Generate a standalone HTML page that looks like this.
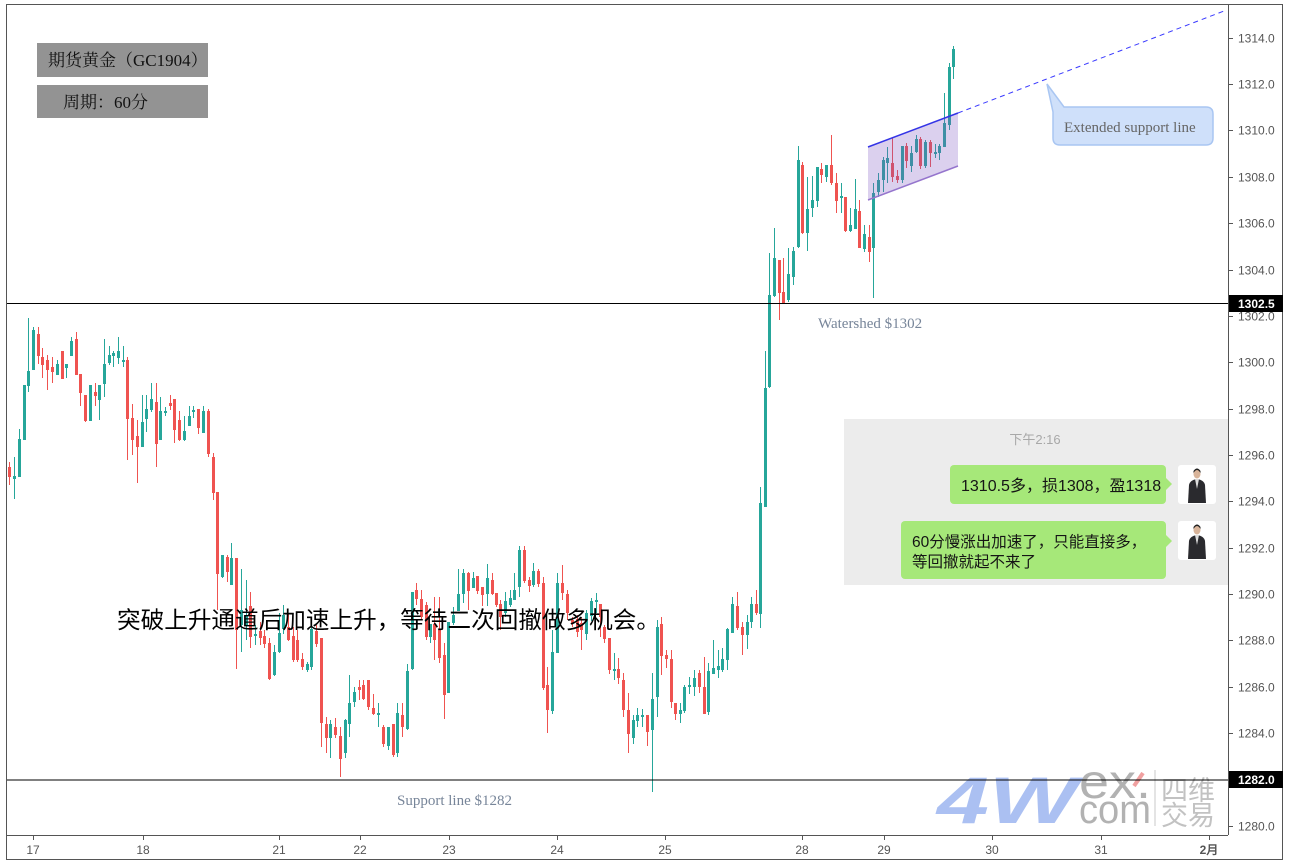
<!DOCTYPE html>
<html><head><meta charset="utf-8">
<style>
html,body{margin:0;padding:0;background:#fff;}
body{width:1290px;height:867px;overflow:hidden;}
svg{display:block;}
.ax{font-family:"Liberation Sans",sans-serif;font-size:12px;fill:#555;}
.ann{font-family:"Liberation Serif",serif;font-size:15px;fill:#778599;}
.cn{font-family:"Liberation Sans","Noto Sans CJK SC",sans-serif;}
</style></head>
<body>
<svg id="s" width="1290" height="867" viewBox="0 0 1290 867" xmlns="http://www.w3.org/2000/svg" shape-rendering="auto">
<rect x="0" y="0" width="1290" height="867" fill="#fff"/>
<g id="candles" shape-rendering="crispEdges"></g>
<!-- channel -->
<polygon points="868,147 958,113 958,166 868,200" fill="rgba(126,87,194,0.28)"/>
<line x1="868" y1="147" x2="958" y2="113" stroke="#3434e6" stroke-width="1.5"/>
<line x1="868" y1="200" x2="958" y2="166" stroke="#9575cd" stroke-width="1.5"/>
<line x1="958" y1="113" x2="1224" y2="11" stroke="#3a3aff" stroke-width="1" stroke-dasharray="5,4"/>
<!-- callout -->
<path d="M1047,84 L1064,107 H1206 Q1213,107 1213,114 V138 Q1213,145 1206,145 H1060 Q1053,145 1053,138 V112 Z" fill="#cfe0fa" stroke="#a9c6f2" stroke-width="1.5"/>
<text x="1064" y="132" font-family="Liberation Serif,serif" font-size="15" fill="#666">Extended support line</text>
<!-- watermark logo -->
<text x="937" y="823" font-family="Liberation Sans,sans-serif" font-weight="bold" font-style="italic" font-size="66" fill="#abc0f2" textLength="140" lengthAdjust="spacingAndGlyphs">4W</text>
<text x="1079" y="798" font-family="Liberation Sans,sans-serif" font-size="48" fill="#b2b2b2" textLength="72" lengthAdjust="spacingAndGlyphs">ex.</text>
<line x1="1134" y1="786" x2="1143" y2="773" stroke="#f0a0a0" stroke-width="4"/>
<text x="1079" y="823" font-family="Liberation Sans,sans-serif" font-size="40" fill="#b2b2b2" textLength="72" lengthAdjust="spacingAndGlyphs">com</text>
<line x1="1155" y1="770" x2="1155" y2="826" stroke="#c8c8c8" stroke-width="1"/>
<text x="1161" y="800" font-family="Noto Sans CJK SC,sans-serif" font-size="27" fill="#c2c2c2">四维</text>
<text x="1161" y="825" font-family="Noto Sans CJK SC,sans-serif" font-size="27" fill="#c2c2c2">交易</text>
<!-- horizontal lines -->
<line x1="6" y1="303.5" x2="1228" y2="303.5" stroke="#000" stroke-width="1"/>
<line x1="6" y1="780" x2="1228" y2="780" stroke="#000" stroke-width="1"/>
<text class="ann" x="818" y="328">Watershed $1302</text>
<text class="ann" x="397" y="805">Support line $1282</text>
<!-- top-left labels -->
<rect x="37" y="43" width="171" height="34" fill="#939393"/>
<text x="48" y="66" font-family="Liberation Serif,'Noto Serif CJK SC',serif" font-size="17" fill="#111">期货黄金（GC1904）</text>
<rect x="37" y="85" width="171" height="33" fill="#939393"/>
<text x="63" y="108" font-family="Liberation Serif,'Noto Serif CJK SC',serif" font-size="17" fill="#111">周期：60分</text>
<!-- overlay chinese text -->
<text x="117" y="628" font-family="Liberation Sans,'Noto Sans CJK SC',sans-serif" font-size="23.5" fill="#000" textLength="543" lengthAdjust="spacingAndGlyphs">突破上升通道后加速上升，等待二次回撤做多机会。</text>
<!-- chat box -->
<rect x="844" y="419" width="384" height="166" fill="#ececec"/>
<text x="1035" y="444" text-anchor="middle" font-family="Liberation Sans,'Noto Sans CJK SC',sans-serif" font-size="13" fill="#a8a8a8">下午2:16</text>
<rect x="950" y="465" width="216" height="39" rx="4" fill="#a6e879"/>
<polygon points="1166,478 1172,484 1166,490" fill="#a6e879"/>
<text x="961" y="491" class="cn" font-size="16" fill="#151515">1310.5多，损1308，盈1318</text>
<rect x="901" y="521" width="265" height="58" rx="4" fill="#a6e879"/>
<polygon points="1166,535 1172,541 1166,547" fill="#a6e879"/>
<text x="912" y="547" class="cn" font-size="15.5" fill="#151515">60分慢涨出加速了，只能直接多，</text>
<text x="912" y="567" class="cn" font-size="15.5" fill="#151515">等回撤就起不来了</text>
<g id="av1"></g>
<!-- frame & axes -->
<rect x="6.5" y="4.5" width="1276" height="855" fill="none" stroke="#555" stroke-width="1"/>
<line x1="1228.5" y1="4" x2="1228.5" y2="835" stroke="#555" stroke-width="1"/>
<line x1="6" y1="835.5" x2="1228" y2="835.5" stroke="#555" stroke-width="1"/>
<g id="axes"></g>
<!-- price boxes -->
<rect x="1229" y="295" width="54" height="17" fill="#000"/>
<text x="1238" y="308" font-family="Liberation Sans,sans-serif" font-size="12" font-weight="bold" fill="#fff">1302.5</text>
<rect x="1229" y="771" width="54" height="17" fill="#000"/>
<text x="1238" y="784" font-family="Liberation Sans,sans-serif" font-size="12" font-weight="bold" fill="#fff">1282.0</text>
</svg>
<script>
(function(){
var NS="http://www.w3.org/2000/svg";
function el(n,a,p){var e=document.createElementNS(NS,n);for(var k in a)e.setAttribute(k,a[k]);(p||document.getElementById('s')).appendChild(e);return e;}
var D=[
[9,0,467,477,462,485],[14,1,476,479,457,499],[19,1,439,477,429,477],[24,1,385,440,385,440],[28,1,371,386,318,392],
[33,1,330,370,327,370],[38,0,334,356,327,364],[42,0,357,365,348,378],[47,0,360,370,355,390],[52,0,367,372,357,383],
[57,1,364,375,360,375],[62,0,351,379,351,379],[66,1,364,368,364,378],[71,1,341,356,337,356],[76,0,339,375,332,375],
[80,0,374,393,374,406],[85,0,395,421,395,422],[90,1,385,421,385,421],[95,0,392,396,383,406],[99,1,385,400,385,420],
[104,1,364,384,339,397],[109,1,355,363,346,365],[113,1,353,356,351,367],[118,1,351,358,337,364],[123,1,360,361,346,367],
[127,0,360,419,357,460],[132,0,418,440,404,455],[137,0,436,447,420,483],[142,1,422,447,395,447],[146,1,409,419,395,432],
[151,1,399,410,383,412],[156,0,402,444,383,467],[160,1,411,440,397,440],[165,1,411,413,407,416],[170,0,403,406,395,410],
[174,0,399,430,399,443],[179,0,420,440,411,441],[184,1,431,440,416,441],[189,1,416,426,406,426],[193,1,410,412,406,418],
[198,0,409,428,409,434],[203,1,411,433,406,433],[208,0,411,454,409,457],[213,0,457,493,453,500],[217,0,492,574,492,610],
[222,1,555,577,555,578],[227,0,557,572,555,582],[231,1,558,585,543,585],[236,0,558,630,558,669],[241,1,610,625,569,652],
[246,1,615,625,580,640],[250,0,606,637,592,648],[255,1,634,636,625,645],[260,0,631,638,622,645],[264,0,636,644,630,648],
[269,0,643,679,638,680],[274,1,652,675,645,676],[279,1,633,652,613,653],[283,1,615,629,605,634],[288,0,627,640,614,641],
[293,0,636,660,627,662],[297,0,640,660,630,662],[302,0,659,667,653,670],[307,1,664,670,662,672],[311,1,629,667,622,670],
[316,0,631,644,625,647],[321,0,638,723,638,747],[326,0,724,738,717,753],[330,1,724,738,720,758],[335,0,727,735,718,738],
[340,0,736,759,727,777],[345,1,720,753,719,758],[349,1,703,724,675,737],[354,1,692,702,687,707],[359,0,687,690,680,700],
[363,0,685,699,680,700],[368,0,680,707,680,710],[373,0,708,714,694,715],[378,1,713,715,703,727],[383,0,727,744,725,747],
[388,1,727,746,727,750],[393,0,724,755,724,757],[397,1,713,753,703,757],[402,0,715,727,703,737],[407,1,671,729,664,730],
[412,1,592,669,592,670],[416,0,590,599,583,605],[421,0,599,617,590,620],[426,0,605,637,602,640],[430,1,624,637,624,643],
[434,0,624,640,597,660],[439,0,629,658,597,663],[444,0,655,695,643,719],[448,1,622,693,622,693],[453,1,615,623,607,625],
[458,1,594,611,569,611],[463,1,573,594,569,603],[468,0,573,591,572,610],[473,1,578,588,572,588],[477,0,576,591,576,594],
[482,0,587,595,587,606],[487,1,578,594,564,606],[492,0,580,594,573,595],[496,0,593,605,593,607],[500,0,604,617,600,630],
[505,1,601,613,592,617],[510,1,598,605,590,607],[514,1,590,600,573,600],[519,1,550,587,546,597],[524,0,550,581,546,583],
[529,0,580,586,577,592],[533,1,571,585,563,587],[538,0,571,584,569,587],[543,0,583,688,577,690],[547,0,685,710,667,733],
[552,1,652,711,630,714],[557,1,583,653,573,653],[562,0,583,593,565,600],[567,0,594,613,590,620],[572,0,620,623,617,627],
[577,0,619,632,615,637],[581,0,623,630,618,650],[586,1,613,634,610,640],[591,1,601,616,598,621],[596,1,600,602,593,613],
[600,0,604,617,604,637],[604,0,627,639,625,643],[609,0,638,670,638,674],[614,1,669,671,653,680],[618,0,669,678,658,684],
[623,0,680,710,673,717],[628,0,710,734,693,753],[633,1,720,738,715,744],[637,1,715,721,708,727],[642,1,715,717,709,727],
[647,0,715,732,715,746],[652,1,699,730,673,792],[657,1,627,697,620,717],[661,0,624,656,617,675],[666,0,655,659,650,668],
[671,0,659,702,650,708],[675,0,703,714,703,720],[680,1,710,714,703,723],[684,1,687,711,685,713],[689,1,685,687,677,694],
[694,1,678,687,670,696],[699,0,673,687,670,693],[704,0,687,714,657,714],[708,1,671,712,663,715],[713,1,668,674,640,674],
[718,1,666,670,650,678],[722,1,659,670,648,672],[727,1,629,660,628,670],[732,1,604,633,597,633],[737,0,606,628,592,630],
[742,0,627,635,622,655],[747,1,622,635,615,649],[751,1,604,622,597,628],[756,0,604,613,590,615],[760,1,503,614,487,628],
[765,1,388,507,351,507],[769,1,295,387,253,388],[774,1,258,296,228,297],[779,0,260,293,260,320],[783,0,292,303,258,304],
[788,1,274,300,248,302],[793,1,251,277,247,285],[798,1,160,247,146,248],[802,0,165,233,162,234],[807,1,209,233,177,251],
[812,1,200,208,176,217],[817,1,167,201,167,207],[821,0,169,175,163,183],[826,1,165,177,165,182],[831,0,165,183,135,185],
[836,0,183,201,173,213],[841,1,196,198,183,213],[845,0,197,231,197,232],[850,1,225,231,208,232],[855,1,209,229,179,229],
[859,0,211,248,200,248],[864,1,234,249,225,252],[869,0,237,252,225,262],[873,1,193,248,183,298],[878,1,180,192,173,197],
[883,1,160,180,157,192],[887,1,158,163,147,183],[892,0,163,177,138,182],[897,0,176,180,170,183],[902,1,146,180,146,183],
[906,0,146,161,143,168],[911,1,153,166,146,172],[916,1,139,152,135,153],[920,0,139,166,137,169],[925,1,142,166,140,168],
[930,0,142,153,140,167],[935,1,152,154,144,158],[939,1,146,153,144,160],[944,1,123,147,93,147],[949,1,67,125,63,130],
[953,1,49,67,46,79]
];
var g=document.getElementById('candles');
D.forEach(function(c){
  var col=c[1]?'#26a69a':'#ef5350';
  var x=c[0];
  el('rect',{x:x,y:c[4],width:1,height:Math.max(1,c[5]-c[4]),fill:col},g);
  el('rect',{x:x-1,y:c[2],width:3,height:Math.max(2,c[3]-c[2]),fill:col},g);
});
// axes
var a=document.getElementById('axes');
for(var p=1314;p>=1280;p-=2){
  var y=Math.round(37.7+(1314-p)*23.18)+0.5;
  el('line',{x1:1228,y1:y,x2:1233,y2:y,stroke:'#555','stroke-width':1},a);
  var t=el('text',{x:1238,y:y+4,'class':'ax'},a);t.textContent=p.toFixed(1);
}
var days=[['17',33],['18',143],['21',279],['22',360],['23',449],['24',557],['25',665],['28',802],['29',884],['30',992],['31',1101],['2月',1209]];
days.forEach(function(d){
  el('line',{x1:d[1]+0.5,y1:835,x2:d[1]+0.5,y2:840,stroke:'#555','stroke-width':1},a);
  var t=el('text',{x:d[1],y:854,'text-anchor':'middle','class':'ax'},a);
  if(d[0]=='2月'){t.setAttribute('font-weight','bold');t.setAttribute('fill','#333');t.setAttribute('font-family','Liberation Sans,Noto Sans CJK SC,sans-serif');}
  t.textContent=d[0];
});
// avatars
var av=document.getElementById('av1');
[465,521].forEach(function(y0){
  el('rect',{x:1178,y:y0,width:38,height:39,rx:3,fill:'#fff'},av);
  el('path',{d:'M1188,'+(y0+38)+' L1189,'+(y0+20)+' Q1190,'+(y0+15)+' 1197,'+(y0+14)+' Q1204,'+(y0+15)+' 1205,'+(y0+20)+' L1206,'+(y0+38)+' Z',fill:'#2a2a2e'},av);
  el('path',{d:'M1195,'+(y0+14)+' L1197,'+(y0+24)+' L1199,'+(y0+14)+' Z',fill:'#ddd'},av);
  el('ellipse',{cx:1197,cy:y0+9,rx:3.5,ry:4.5,fill:'#d8b49a'},av);
  el('path',{d:'M1193.5,'+(y0+8)+' Q1197,'+(y0+2)+' 1200.5,'+(y0+8)+' L1200.5,'+(y0+6)+' Q1197,'+(y0+1)+' 1193.5,'+(y0+6)+' Z',fill:'#222'},av);
});
})();
</script>
</body></html>
